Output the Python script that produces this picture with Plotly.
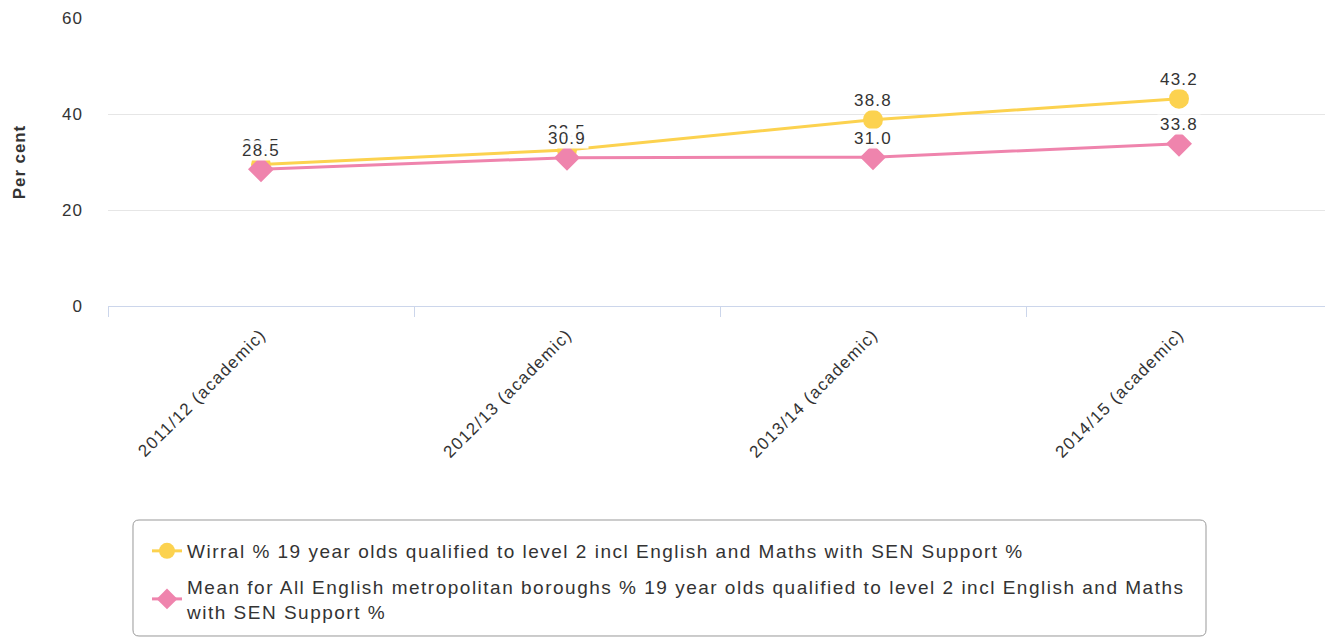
import plotly.graph_objects as go

# Academic years and series values (per cent)
years = ["2011/12 (academic)", "2012/13 (academic)", "2013/14 (academic)", "2014/15 (academic)"]
wirral = [29.5, 32.5, 38.8, 43.2]
met_mean = [28.5, 30.9, 31.0, 33.8]

wirral_name = "Wirral % 19 year olds qualified to level 2 incl English and Maths with SEN Support %"
mean_name = ("Mean for All English metropolitan boroughs % 19 year olds qualified to level 2 incl English and Maths"
             "<br>with SEN Support %")

W, H = 1325, 638
ML, MR, MT, MB = 108, 0, 18, 332
PW, PH = W - ML - MR, H - MT - MB

FONT = "Liberation Sans, Arial, sans-serif"
TXT = "#333333"
YELLOW = "#fcd24f"
PINK = "#ef84ad"

fig = go.Figure()
fig.add_trace(go.Scatter(
    x=years, y=wirral, name=wirral_name, mode="lines+markers", legendgroup="wirral",
    line=dict(color=YELLOW, width=3),
    marker=dict(symbol="circle", size=20, color=YELLOW),
))
fig.add_trace(go.Scatter(
    x=years, y=met_mean, name=mean_name, mode="lines+markers", legendgroup="mean",
    line=dict(color=PINK, width=3),
    marker=dict(symbol="diamond", size=20, color=PINK),
))

# Value labels with a light backing box; the second series is drawn on top
annotations = []
for series in (wirral, met_mean):
    for cat, v in zip(years, series):
        annotations.append(dict(
            x=cat, y=v, xref="x", yref="y", text=f"{v:.1f}", showarrow=False,
            yshift=19, height=19, valign="middle", width=42,
            bgcolor="rgba(255,255,255,0.94)", borderpad=0,
            font=dict(family=FONT, size=17, color=TXT),
        ))


def px_to_paper(px, py):
    return (px - ML) / PW, (H - MB - py) / PH


def P(px, py):
    a, b = px_to_paper(px, py)
    return f"{a:.5f},{b:.5f}"


# Rounded legend frame
x0, y0, x1, y1, r = 133, 520, 1206, 636, 6
path = (f"M {P(x0 + r, y0)} L {P(x1 - r, y0)} Q {P(x1, y0)} {P(x1, y0 + r)} "
        f"L {P(x1, y1 - r)} Q {P(x1, y1)} {P(x1 - r, y1)} "
        f"L {P(x0 + r, y1)} Q {P(x0, y1)} {P(x0, y1 - r)} "
        f"L {P(x0, y0 + r)} Q {P(x0, y0)} {P(x0 + r, y0)} Z")

lx, ly = px_to_paper(147, 532)

fig.update_layout(
    width=W, height=H,
    margin=dict(l=ML, r=MR, t=MT, b=MB, autoexpand=False),
    paper_bgcolor="white", plot_bgcolor="white",
    font=dict(family=FONT, size=16, color=TXT),
    showlegend=True,
    legend=dict(
        x=lx, y=ly, xanchor="left", yanchor="top",
        font=dict(family=FONT, size=19, color=TXT),
        bgcolor="rgba(0,0,0,0)", borderwidth=0,
        tracegroupgap=8, itemwidth=30,
    ),
    annotations=annotations,
    shapes=[dict(type="path", xref="paper", yref="paper", path=path,
                 line=dict(color="#999999", width=1), fillcolor="rgba(0,0,0,0)")],
    xaxis=dict(
        type="category", range=[-0.5, 3.5 - 7 / 306],
        showgrid=False, zeroline=False,
        showline=True, linecolor="#ccd6eb", linewidth=1,
        ticks="outside", tickson="boundaries", ticklen=10, tickcolor="#ccd6eb",
        tickangle=-45, tickfont=dict(family=FONT, size=17, color=TXT),
        ticklabelstandoff=11,
    ),
    yaxis=dict(
        range=[0, 60], tickvals=[0, 20, 40, 60],
        showgrid=True, gridcolor="#e6e6e6", gridwidth=1,
        zeroline=False, showline=False,
        tickfont=dict(family=FONT, size=17, color=TXT),
        ticklabelstandoff=24,
        title=dict(text="<b>Per cent</b>", font=dict(family=FONT, size=17, color=TXT), standoff=34),
    ),
    hovermode="closest",
)

# Slightly wider character spacing for the chart's texts; let the legend text run its full width
spacing_js = """
var gd = document.getElementById('{plot_id}');
function spacing(sel, v) {
  gd.querySelectorAll(sel).forEach(function (t) { t.style.letterSpacing = v; });
}
spacing('.legendtext', '1.5px');
spacing('.annotation-text', '1.2px');
spacing('.xtick text', '1.3px');
spacing('.ytick text', '1px');
spacing('.g-ytitle text', '0.9px');
gd.querySelectorAll('.legend [clip-path]').forEach(function (e) { e.removeAttribute('clip-path'); });
"""

fig.write_html("out.html", post_script=spacing_js)
